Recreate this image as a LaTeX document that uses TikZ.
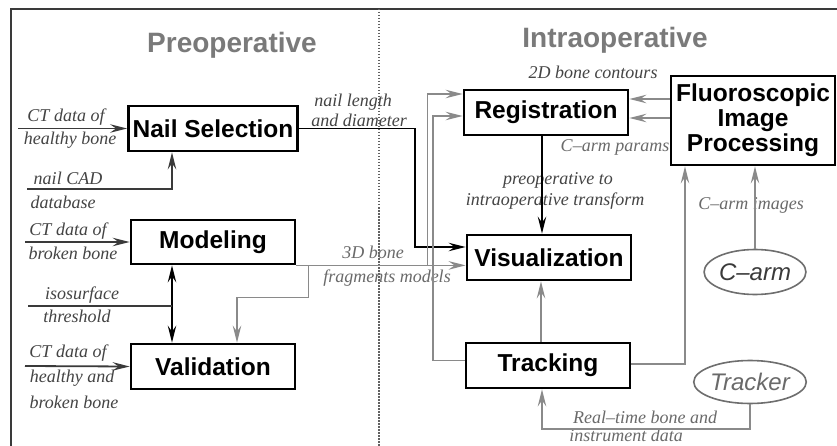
\documentclass[tikz,border=0pt]{standalone}
\usepackage{fontspec}
\setmainfont{Liberation Serif}
\newfontfamily\hv{Liberation Sans}
\usetikzlibrary{arrows.meta,shapes.geometric,calc}
\definecolor{gline}{HTML}{8A8A8A}
\definecolor{dline}{HTML}{3A3A3A}
\definecolor{ltext}{HTML}{444444}
\definecolor{rtext}{HTML}{6A6A6A}
\definecolor{ttext}{HTML}{7A7A7A}
\begin{document}
\begin{tikzpicture}[x=1pt,y=-1pt,
 box/.style={draw=black, line width=2.8pt, minimum width=164pt, minimum height=45pt, inner sep=0pt, font=\hv\bfseries\fontsize{24.5}{25}\selectfont, align=center},
 lblL/.style={font=\itshape\fontsize{18}{22}\selectfont, text=ltext, inner sep=0pt},
 lblR/.style={lblL, text=rtext},
 ttl/.style={font=\hv\bfseries\fontsize{28}{30}\selectfont, text=ttext, inner sep=0pt},
 ell/.style={ellipse, draw=gline!80!black, line width=1.6pt, inner sep=0pt, font=\hv\itshape\fontsize{24}{26}\selectfont},
 atip/.style={-{Stealth[length=17pt,width=8.5pt,inset=6pt]}},
 blk/.style={draw=black, line width=1.8pt, atip},
 gry/.style={draw=gline, line width=1.8pt, atip},
 inp/.style={draw=dline, line width=1.8pt},
]
\useasboundingbox[fill=white] (0,0) rectangle (837,446);

% frame and divider
\draw[draw=dline, line width=2pt] (11,446) -- (11,9) -- (837,9);
\draw[gline!70!black, line width=1.5pt, dash pattern=on 1.5pt off 1.5pt] (379,9) -- (379,446);

% titles
\node[ttl] (pre) at (232,45) {Preoperative};
\node[ttl] (intra) at (615,40) {Intraoperative};

% boxes
\node[box, minimum width=169pt] (ns) at (213,128.5) {Nail Selection};
\node[box, minimum height=44pt] (mod) at (213,242) {Modeling};
\node[box] (val) at (213,366.5) {Validation};
\node[box] (reg) at (546,112.5) {Registration};
\node[box, minimum height=89pt] (fip) at (753,120.5) {Fluoroscopic\\Image\\Processing};
\node[box] (vis) at (549,257.5) {Visualization};
\node[box] (trk) at (548,365.5) {Tracking};
\node[ell, minimum width=99pt, minimum height=45pt, text=dline] (carm) at (755,272) {C–arm};
\node[ell, minimum width=98pt, minimum height=43pt, text=rtext] (trkr) at (750,382) {Tracker};

% labels
\node[lblL] (l1a) at (66,117) {CT data of};
\node[lblL] (l1b) at (70,140) {healthy bone};
\node[lblL] (l2a) at (68,178) {nail CAD};
\node[lblL] (l2b) at (63,202) {database};
\node[lblL] (l3a) at (68,231) {CT data of};
\node[lblL] (l3b) at (73,253) {broken bone};
\node[lblL] (l4a) at (82,295) {isosurface};
\node[lblL] (l4b) at (77,316) {threshold};
\node[lblL] (l5a) at (68,353) {CT data of};
\node[lblL] (l5b) at (72,378) {healthy and};
\node[lblL] (l5c) at (74,402) {broken bone};
\node[lblL] (nl1) at (353,102) {nail length};
\node[lblL] (nl2) at (359,120) {and diameter};
\node[lblR] (b3d1) at (373,252) {3D bone};
\node[lblR] (b3d2) at (387,278) {fragments models};
\node[lblL] (c2d) at (593,72) {2D bone contours};
\node[lblR] (cap) at (615,147) {C–arm params};
\node[lblL] (pt1) at (558,180) {preoperative to};
\node[lblL] (pt2) at (555,201) {intraoperative transform};
\node[lblR] (cim) at (751,205) {C–arm images};
\node[lblR] (rt1) at (645,417) {Real–time bone and};
\node[lblR] (rt2) at (626,435) {instrument data};

% input coordinates
\coordinate (in1) at (18,128.5);
\coordinate (in2) at (27,189);
\coordinate (in3) at (25,242);
\coordinate (in4) at (28,306);
\coordinate (in5) at (25,366);
\coordinate (bnd1) at (415,247);

% inputs
\draw[inp, atip] (in1) -- (ns.west);
\draw[inp, atip] (in2) -| ([xshift=-41pt]ns.south);
\draw[inp, atip] (in3) -- (mod.west);
\draw[blk] (in4) -| ([xshift=-41pt]mod.south);
\draw[blk] (in4) -| ([xshift=-41pt]val.north);
\draw[inp] (in4) -- ++(144,0);
\draw[inp, atip] (in5) -- (val.west);

% main connectors
\draw[blk] (ns.east) -| (bnd1) -- ([yshift=10.5pt]vis.west);
\draw[gry] (mod.south east) -- (mod.south east -| vis.west);
\draw[gry] ([xshift=12pt]mod.south east) -- ++(0,32) -| ([xshift=24pt]val.north);
\draw[gry] ([xshift=131pt]mod.south east) |- ([yshift=18.5pt]reg.west);
\draw[gry] ([yshift=5pt]trk.west) -- ++(-32,0) |- ([yshift=-3.5pt]reg.west);
\draw[gry] ([yshift=1.5pt]trk.east) -| ([xshift=-68pt]fip.south);
\draw[gry] ([xshift=-7pt]trk.north) -- ([xshift=-8pt]vis.south);
\draw[blk] ([xshift=-4pt]reg.south) -- ([xshift=-7pt]vis.north);
\draw[gry] ([yshift=21.5pt]fip.west) -- ([yshift=13.5pt]reg.east);
\draw[gry] ([yshift=2.5pt]fip.west) -- ([yshift=-5.5pt]reg.east);
\draw[gry] (carm.north) -- (carm.north |- fip.south);
\draw[gry] (trkr.south) -- ++(0,24.5) -| ([xshift=-6pt]trk.south);
\end{tikzpicture}
\end{document}
